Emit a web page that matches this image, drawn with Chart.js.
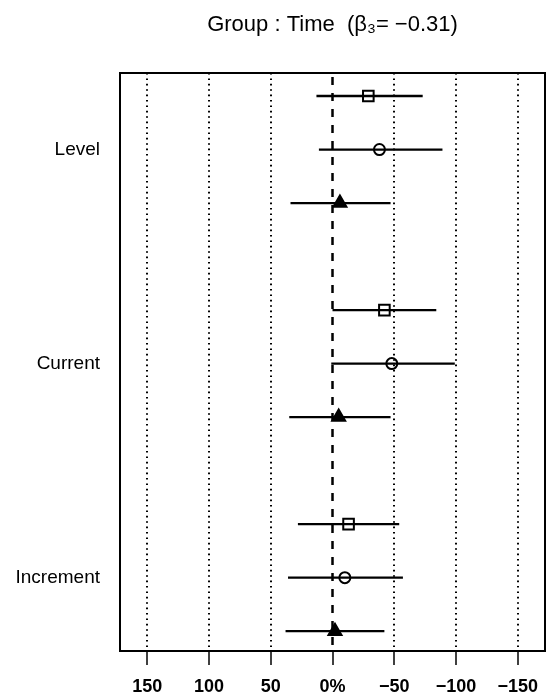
<!DOCTYPE html>
<html>
<head>
<meta charset="utf-8">
<script src="https://cdn.jsdelivr.net/npm/chart.js@4/dist/chart.umd.min.js"></script>
<style>
  html, body { margin: 0; padding: 0; background: #ffffff; }
  #wrap { width: 555px; height: 698px; }
</style>
</head>
<body>
<div id="wrap"><canvas id="chart" width="555" height="698"></canvas></div>
<script>
// Effect categories (one block of three rows each)
const categories = ['Level', 'Current', 'Increment'];

// Open squares: estimate and interval limits (%)
const squareEst  = [-29, -42, -13];
const squareLow  = [13, 0, 28];
const squareHigh = [-73, -84, -54];

// Open circles
const circleEst  = [-38, -48, -10];
const circleLow  = [11, 1, 36];
const circleHigh = [-89, -99, -57];

// Filled triangles
const triangleEst  = [-6, -5, -2];
const triangleLow  = [34, 35, 38];
const triangleHigh = [-47, -47, -42];

// Axis ticks
const xTickValues = [150, 100, 50, 0, -50, -100, -150];
const xTickLabels = ['150', '100', '50', '0%', '\u221250', '\u2212100', '\u2212150'];
const referenceValue = 0;

const titleText = 'Group : Time  (\u03B2\u2083= \u22120.31)';

const series = [
  { est: squareEst,   low: squareLow,   high: squareHigh,   style: 'rect',     radius: 7.5, fill: 'rgba(0,0,0,0)' },
  { est: circleEst,   low: circleLow,   high: circleHigh,   style: 'circle',   radius: 5.5, fill: 'rgba(0,0,0,0)' },
  { est: triangleEst, low: triangleLow, high: triangleHigh, style: 'triangle', radius: 7.5, fill: '#000000' }
];

// row position: each category occupies three rows followed by a blank row
const rowOf = (g, s) => g * 4 + s;

const datasets = series.map((s, si) => ({
  type: 'scatter',
  data: categories.map((c, g) => ({ x: s.est[g], y: rowOf(g, si) })),
  pointStyle: s.style,
  pointRadius: s.radius,
  pointHoverRadius: s.radius,
  pointBackgroundColor: s.fill,
  pointBorderColor: '#000000',
  pointBorderWidth: 2
}));

const FONT = "'Liberation Sans', Arial, Helvetica, sans-serif";

// dashed reference line, interval bars and the frame
const forestPlugin = {
  id: 'forest',
  beforeDatasetsDraw(chart) {
    const { ctx, chartArea: a, scales: { x, y } } = chart;
    ctx.save();
    // reference line
    const x0 = x.getPixelForValue(referenceValue);
    ctx.strokeStyle = '#000';
    ctx.lineWidth = 2.5;
    ctx.setLineDash([8, 8]);
    ctx.beginPath();
    ctx.moveTo(x0, a.top + 4);
    ctx.lineTo(x0, a.bottom);
    ctx.stroke();
    ctx.setLineDash([]);
    // interval bars
    ctx.lineWidth = 2.3;
    series.forEach((s, si) => {
      categories.forEach((c, g) => {
        const yy = y.getPixelForValue(rowOf(g, si));
        ctx.beginPath();
        ctx.moveTo(x.getPixelForValue(s.low[g]), yy);
        ctx.lineTo(x.getPixelForValue(s.high[g]), yy);
        ctx.stroke();
      });
    });
    ctx.restore();
  },
  afterDatasetsDraw(chart) {
    const { ctx, chartArea: a } = chart;
    ctx.save();
    ctx.strokeStyle = '#000';
    ctx.lineWidth = 2;
    ctx.strokeRect(a.left, a.top, a.right - a.left, a.bottom - a.top);
    ctx.restore();
  }
};

new Chart(document.getElementById('chart'), {
  type: 'scatter',
  data: { datasets },
  plugins: [forestPlugin],
  options: {
    responsive: false,
    animation: false,
    layout: { padding: { left: 0, right: 10, top: 0, bottom: 0 } },
    plugins: {
      legend: { display: false },
      tooltip: { enabled: false },
      title: {
        display: true,
        fullSize: false,
        text: titleText,
        color: '#000',
        font: { family: FONT, size: 22, weight: 'normal', lineHeight: 1.2 },
        padding: { top: 11.4, bottom: 35.2 }
      }
    },
    scales: {
      x: {
        type: 'linear',
        reverse: true,
        min: -172,
        max: 172,
        afterBuildTicks(scale) { scale.ticks = xTickValues.map(v => ({ value: v })); },
        afterFit(scale) { scale.height = 47; },
        ticks: {
          color: '#000',
          padding: 11,
          maxRotation: 0,
          autoSkip: false,
          font: { family: FONT, size: 18, weight: 'bold' },
          callback(v) { const i = xTickValues.indexOf(v); return i >= 0 ? xTickLabels[i] : ''; }
        },
        grid: {
          display: true,
          drawOnChartArea: true,
          drawTicks: true,
          tickLength: 14,
          lineWidth: 2,
          tickWidth: 1.5,
          tickColor: '#000',
          color: ctx => (ctx.tick && ctx.tick.value === referenceValue) ? 'rgba(0,0,0,0)' : '#000'
        },
        border: { display: false, dash: [1.6, 3.8] }
      },
      y: {
        type: 'linear',
        reverse: true,
        min: -0.43,
        max: 10.37,
        afterBuildTicks(scale) { scale.ticks = categories.map((c, g) => ({ value: rowOf(g, 1) })); },
        afterFit(scale) { scale.width = 120; },
        ticks: {
          color: '#000',
          padding: 20,
          autoSkip: false,
          font: { family: FONT, size: 19, weight: 'normal' },
          callback(v) { const g = categories.findIndex((c, i) => rowOf(i, 1) === v); return g >= 0 ? categories[g] : ''; }
        },
        grid: { display: false, drawTicks: false },
        border: { display: false }
      }
    }
  }
});
</script>
</body>
</html>
